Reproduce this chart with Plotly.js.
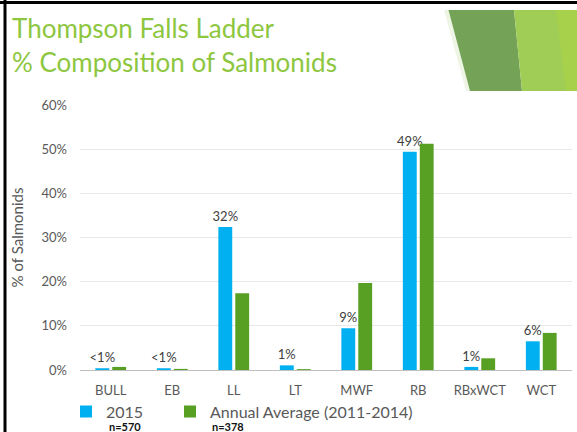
<!DOCTYPE html>
<html>
<head>
<meta charset="utf-8">
<script src="https://cdn.plot.ly/plotly-3.0.1.min.js"></script>
<style>
  html, body { margin: 0; padding: 0; background: #ffffff; }
  #chart { width: 577px; height: 432px; }
</style>
</head>
<body>
<div id="chart"></div>
<script>
// ---- data ----
var categories = ['BULL', 'EB', 'LL', 'LT', 'MWF', 'RB', 'RBxWCT', 'WCT'];
var series2015 = [0.4, 0.4, 32.4, 1.05, 9.45, 49.4, 0.7, 6.5];
var seriesAvg = [0.7, 0.25, 17.4, 0.2, 19.7, 51.2, 2.65, 8.4];
var labels2015 = ['<1%', '<1%', '32%', '1%', '9%', '49%', '1%', '6%'];
var seriesNames = ['2015', 'Annual Average (2011-2014)'];
var sampleSizes = ['n=570', 'n=378'];
var yTickValues = [0, 10, 20, 30, 40, 50, 60];
var yTickLabels = ['0%', '10%', '20%', '30%', '40%', '50%', '60%'];
var titleLines = ['Thompson Falls Ladder', '% Composition of Salmonids'];
var yTitle = '% of Salmonids';

// ---- layout helpers (pixel -> paper) ----
var W = 577, H = 432;
var M = {l: 80, r: 5, t: 105, b: 62};
var PW = W - M.l - M.r, PH = H - M.t - M.b;
function px(x) { return (x - M.l) / PW; }
function py(y) { return (H - M.b - y) / PH; }
function poly(pts) {
  return 'M' + pts.map(function (p) { return px(p[0]) + ',' + py(p[1]); }).join('L') + 'Z';
}

var FONT = 'Lato, "Open Sans", sans-serif';
var BLUE = '#00B0F0', GREEN = '#58A023', TITLEGREEN = '#8DC63F';

var traces = [
  {
    type: 'bar', name: seriesNames[0], x: categories, y: series2015,
    marker: {color: BLUE},
    text: labels2015, textposition: 'outside', cliponaxis: false,
    constraintext: 'none',
    textfont: {family: FONT, size: 13, color: '#404040'},
    legendwidth: 59,
    hoverinfo: 'x+y'
  },
  {
    type: 'bar', name: seriesNames[1], x: categories, y: seriesAvg,
    marker: {color: GREEN},
    legendwidth: 215,
    hoverinfo: 'x+y'
  }
];

var shapes = [
  // decorative banner top-right
  {type: 'path', xref: 'paper', yref: 'paper', layer: 'above', line: {width: 0},
   fillcolor: '#EEF5E4', path: poly([[444, 10], [449, 10], [470, 91], [466, 91]])},
  {type: 'path', xref: 'paper', yref: 'paper', layer: 'above', line: {width: 0},
   fillcolor: '#74A257', path: poly([[448.5, 10], [514, 10], [522, 91], [470, 91]])},
  {type: 'path', xref: 'paper', yref: 'paper', layer: 'above', line: {width: 0},
   fillcolor: '#9FCD55', path: poly([[514, 10], [577, 10], [577, 91], [522, 91]])},
  {type: 'path', xref: 'paper', yref: 'paper', layer: 'above', line: {width: 0},
   fillcolor: '#A7D14B', path: poly([[556, 10], [577, 10], [577, 91], [566, 91]])},
  // slide frame lines
  {type: 'line', xref: 'paper', yref: 'paper', layer: 'above',
   x0: px(0), x1: px(577), y0: py(2.5), y1: py(2.5), line: {color: '#000000', width: 3}},
  {type: 'line', xref: 'paper', yref: 'paper', layer: 'above',
   x0: px(5), x1: px(5), y0: py(0), y1: py(432), line: {color: '#000000', width: 3}}
];

var annotations = [
  {xref: 'paper', yref: 'paper', x: px(125), y: py(426), xanchor: 'center', yanchor: 'middle',
   text: sampleSizes[0], showarrow: false, font: {family: FONT, size: 11, color: '#111111', weight: 'bold'}},
  {xref: 'paper', yref: 'paper', x: px(228), y: py(426), xanchor: 'center', yanchor: 'middle',
   text: sampleSizes[1], showarrow: false, font: {family: FONT, size: 11, color: '#111111', weight: 'bold'}}
];

var layout = {
  width: W, height: H,
  margin: M,
  paper_bgcolor: '#ffffff', plot_bgcolor: '#ffffff',
  font: {family: FONT, color: '#595959'},
  title: {
    text: titleLines.join('<br>'),
    font: {family: FONT, size: 26, color: TITLEGREEN},
    xref: 'container', yref: 'container',
    x: 12 / W, xanchor: 'left',
    y: 1 - 38 / H, yanchor: 'top'
  },
  barmode: 'group', bargap: 0.45, bargroupgap: 0.18,
  xaxis: {
    type: 'category', showgrid: false, zeroline: false,
    showline: true, linecolor: '#BFBFBF', linewidth: 1,
    ticks: '', tickfont: {family: FONT, size: 13, color: '#595959'},
    ticklabelstandoff: 8
  },
  yaxis: {
    range: [0, 60], tickmode: 'array', tickvals: yTickValues, ticktext: yTickLabels,
    showgrid: true, gridcolor: '#E8E8E8', gridwidth: 1,
    zeroline: false, showline: false, ticks: '',
    tickfont: {family: FONT, size: 13, color: '#595959'},
    ticklabelstandoff: 12,
    title: {text: yTitle, font: {family: FONT, size: 15, color: '#595959'}, standoff: 14}
  },
  showlegend: true,
  legend: {
    orientation: 'h', xref: 'container', yref: 'container',
    x: 66 / W, xanchor: 'left', y: 1 - 394.5 / H, yanchor: 'top',
    font: {family: FONT, size: 16, color: '#595959'},
    entrywidthmode: 'pixels',
    bgcolor: 'rgba(0,0,0,0)', borderwidth: 0, traceorder: 'normal'
  },
  shapes: shapes,
  annotations: annotations
};

Plotly.newPlot('chart', traces, layout, {displayModeBar: false, staticPlot: true});
</script>
</body>
</html>
